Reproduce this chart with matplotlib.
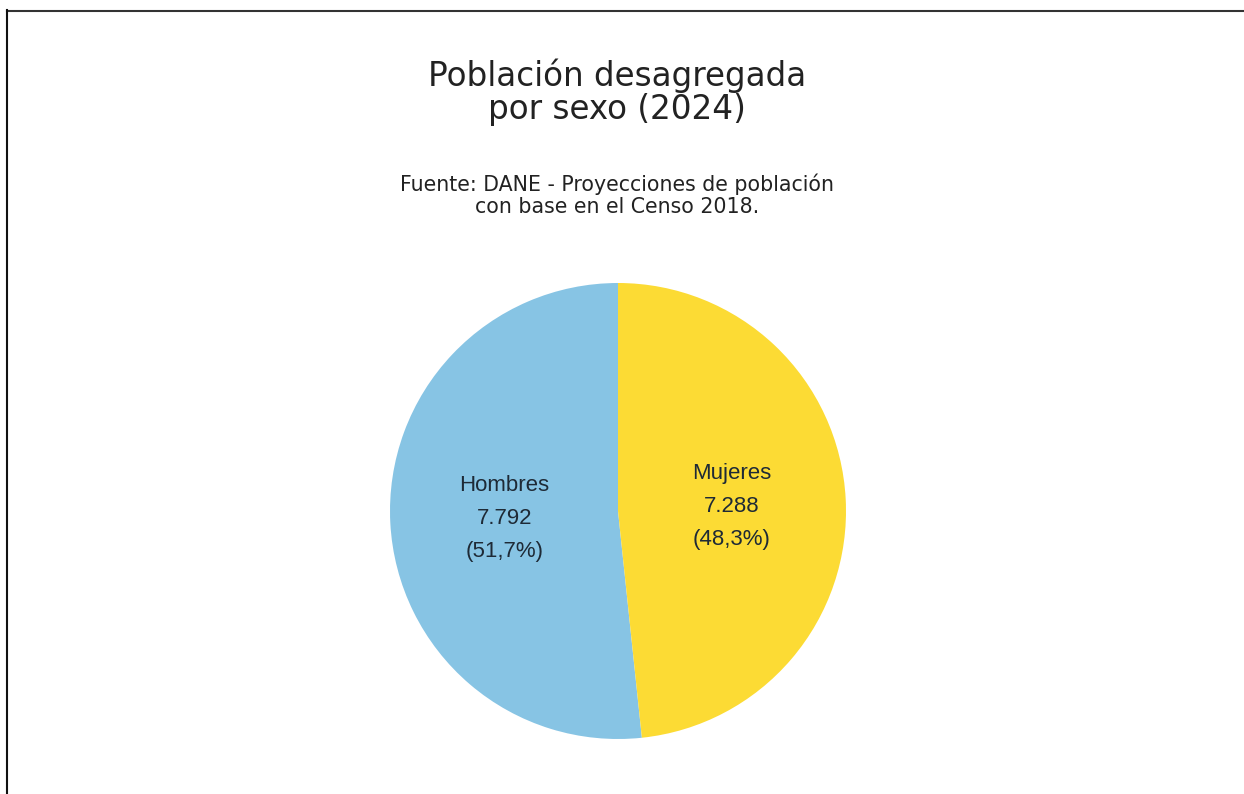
import matplotlib.pyplot as plt
from matplotlib.lines import Line2D
import numpy as np

# population in thousands, 2024
categorias = ['Hombres', 'Mujeres']
poblacion = [7792, 7288]
colores = ['#87c4e4', '#fcdb34']

titulo = 'Población desagregada\npor sexo (2024)'
fuente = 'Fuente: DANE - Proyecciones de población\ncon base en el Censo 2018.'

W, H = 1244, 794
fig = plt.figure(figsize=(W / 100, H / 100), dpi=100)
fig.patch.set_facecolor('white')

ax = fig.add_axes([0, 0, 1, 1])
cx, cy, r = 618, H - 511, 228
wedges, _ = ax.pie(poblacion, colors=colores, startangle=90, counterclock=True,
                   center=(cx, cy), radius=r, wedgeprops=dict(linewidth=0))
ax.set_xlim(0, W)
ax.set_ylim(0, H)
ax.set_aspect('equal')
ax.axis('off')

# labels in the middle of each wedge, Spanish number format
total = sum(poblacion)
for w, nombre, valor in zip(wedges, categorias, poblacion):
    ang = np.deg2rad((w.theta1 + w.theta2) / 2)
    x = cx + 0.5 * r * np.cos(ang)
    y = cy + 0.5 * r * np.sin(ang)
    pct = f'{100 * valor / total:.1f}'.replace('.', ',')
    cifra = f'{valor:,}'.replace(',', '.')
    ax.text(x, y - 1.5, f'{nombre}\n{cifra}\n({pct}%)', ha='center', va='center',
            fontsize=16, family='Liberation Sans', color='#1e2a36',
            linespacing=1.75)

fig.text(617 / W, 1 - 92 / H, titulo, ha='center', va='center', fontsize=23.5,
         family='DejaVu Sans', color='#222222', linespacing=1.0)
fig.text(617 / W, 1 - 195 / H, fuente, ha='center', va='center', fontsize=14.8,
         family='DejaVu Sans', color='#222222', linespacing=1.12)

# frame along top and left edges
fig.add_artist(Line2D([7 / W, 1], [1 - 10.5 / H] * 2, transform=fig.transFigure,
                      color='#333333', linewidth=1.5))
fig.add_artist(Line2D([7.5 / W] * 2, [1 - 10 / H, 0], transform=fig.transFigure,
                      color='#111111', linewidth=1.5))

fig.savefig('out.png', dpi=100, facecolor='white')
